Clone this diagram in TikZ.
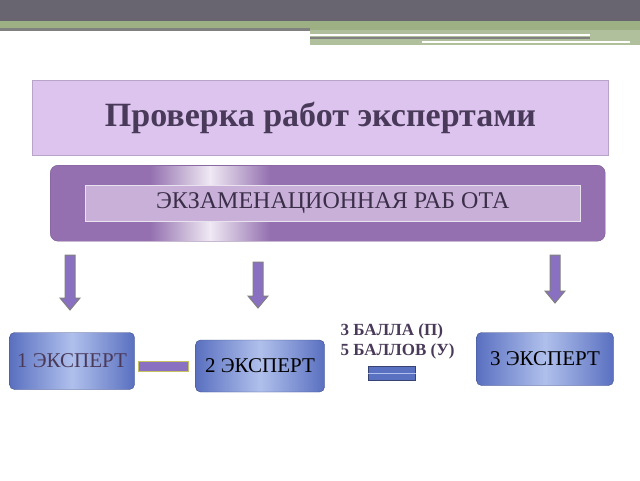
\documentclass[tikz,border=0pt]{standalone}
\usepackage{fontspec}
\setmainfont{Liberation Serif}
\definecolor{topgray}{HTML}{686570}
\definecolor{band}{HTML}{9CB084}
\definecolor{lav}{HTML}{DCC4EE}
\definecolor{lavb}{HTML}{B8A4C8}
\definecolor{purp}{HTML}{9470B0}
\definecolor{inner}{HTML}{C8B0D8}
\definecolor{arr}{HTML}{8A70C0}
\definecolor{blu}{HTML}{5A70C0}
\definecolor{blul}{HTML}{B0C0EC}
\definecolor{txt}{HTML}{4A3A5A}
\begin{document}
\begin{tikzpicture}[x=1pt,y=-1pt,
  expert/.style={rounded corners=5pt, draw=blu!70!black, left color=blu, right color=blu, middle color=blul, font=\fontsize{21}{21}\selectfont},
  darr/.style={draw=gray, line width=1pt, fill=arr, line join=miter}]
\useasboundingbox (0,0) rectangle (640,480);
\fill[topgray] (0,0) rectangle (640,21);
\fill[band] (0,21) rectangle (640,30);
\fill[gray] (0,28) rectangle (310,31);
\fill[band!80] (310,30) rectangle (640,45);
\fill[white] (310,34) rectangle (590,36);
\fill[gray] (310,37) rectangle (590,39);
\fill[white] (422,41) rectangle (630,43);
\node[draw=lavb, line width=1pt, fill=lav, minimum width=576pt, minimum height=75pt, anchor=north west, font=\bfseries\fontsize{34}{34}\selectfont, text=txt] (title) at (32,80) {Проверка работ экспертами};
\node[rounded corners=8pt, draw=purp!80!black, fill=purp, minimum width=555pt, minimum height=76pt, anchor=north west] (work) at (50,165) {};
\shade[left color=purp, right color=purp, middle color=white!85!purp] (150,166) rectangle (270,240);
\node[fill=inner, draw=white!80!purp, minimum width=495pt, minimum height=36pt, anchor=north west, font=\fontsize{24}{24}\selectfont, text=txt!80!black] (exam) at (85,185) {\raisebox{-3pt}{ЭКЗАМЕНАЦИОННАЯ РАБ ОТА}};
\foreach \x/\t/\b in {70/255/310, 258/262/308, 555/255/303}
  \draw[darr] (\x-5,\t) -- (\x+5,\t) -- (\x+5,\b-12) -- (\x+10,\b-12) -- (\x,\b) -- (\x-10,\b-12) -- (\x-5,\b-12) -- cycle;
\node[expert, minimum width=125pt, minimum height=57pt, text=txt] (e1) at (72,361) {1 ЭКСПЕРТ};
\node[expert, minimum width=129pt, minimum height=52pt] (e2) at (260,366) {2 ЭКСПЕРТ};
\node[expert, minimum width=137pt, minimum height=53pt] (e3) at (545,359) {3 ЭКСПЕРТ};
\draw[draw=yellow!50!gray, fill=arr] (138,361) rectangle (188,371);
\node[font=\bfseries\fontsize{17}{17}\selectfont, text=txt, anchor=west, align=left] (score) at (337,341) {3 БАЛЛА (П)\\[3pt]5 БАЛЛОВ (У)};
\node[draw=blu!60!black, fill=blu, minimum width=47pt, minimum height=14pt, inner sep=0pt] (eq) at (392,373) {};
\draw[blul] (eq.west) -- (eq.east);
\end{tikzpicture}
\end{document}
